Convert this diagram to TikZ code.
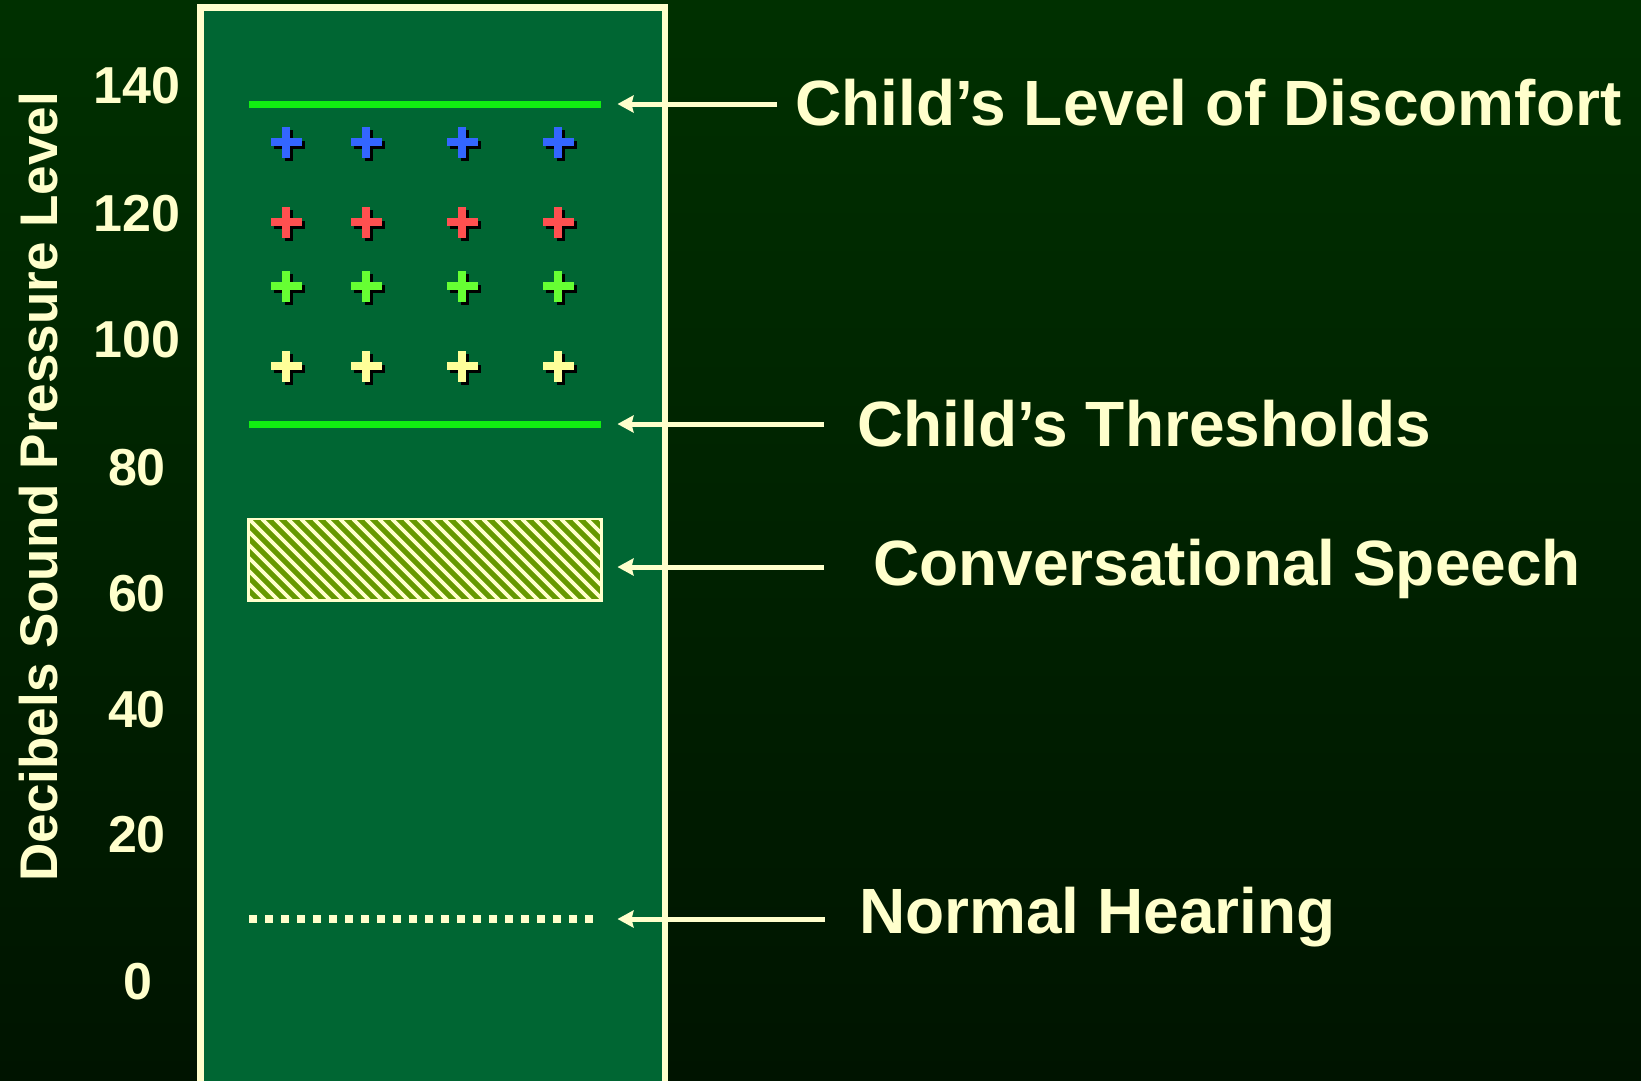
\documentclass[tikz,border=0pt]{standalone}
\usepackage{fontspec}
\setmainfont{Liberation Sans}
\usetikzlibrary{arrows.meta}
\definecolor{cream}{HTML}{FFFFCC}
\definecolor{panel}{HTML}{006633}
\definecolor{bgtop}{HTML}{003000}
\definecolor{bgbot}{HTML}{001400}
\definecolor{brightgreen}{HTML}{11EE11}
\definecolor{pblue}{HTML}{3366FF}
\definecolor{pred}{HTML}{FF5050}
\definecolor{pgreen}{HTML}{66FF33}
\definecolor{pyellow}{HTML}{FFFF99}
\definecolor{hatchg}{HTML}{669900}
\tikzset{
  plusmk/.pic={
    \fill[black] (-15.5+3,-3.85+3) rectangle (15.5+3,3.85+3);
    \fill[black] (-3.85+3,-15.5+3) rectangle (3.85+3,15.5+3);
    \fill[#1] (-15.5,-3.85) rectangle (15.5,3.85);
    \fill[#1] (-3.85,-15.5) rectangle (3.85,15.5);
  },
  arr/.style={draw=cream, line width=5pt, -{Stealth[length=16pt,width=17pt,inset=2pt]}},
  lbl/.style={text=cream, font=\fontsize{64}{70}\selectfont\bfseries, inner sep=0pt, anchor=base west},
  num/.style={text=cream, font=\fontsize{52}{58}\selectfont\bfseries, inner sep=0pt, anchor=base},
  level/.style={draw=brightgreen, line width=7pt}
}
\begin{document}
\begin{tikzpicture}[x=1pt,y=-1pt]
\shade[top color=bgtop, bottom color=bgbot] (0,0) rectangle (1641,1080);
\useasboundingbox (0,0) rectangle (1641,1080);
% panel
\draw[draw=cream, fill=panel, line width=6.5pt] (200.5,7.7) rectangle (665,1086);
% level lines
\draw[level] (249,104) -- (601,104);
\draw[level] (249,424) -- (601,424);
% plus marks
\foreach \xx in {286.3,366.3,462.3,558.3} {
  \pic at (\xx,142.3) {plusmk=pblue};
  \pic at (\xx,222.3) {plusmk=pred};
  \pic at (\xx,286.3) {plusmk=pgreen};
  \pic at (\xx,366.3) {plusmk=pyellow};
}
% hatched speech box
\begin{scope}
  \clip (248.5,519) rectangle (601.5,600.5);
  \fill[hatchg] (248.5,519) rectangle (601.5,600.5);
  \foreach \i in {0,...,40} \draw[cream, line width=3.6pt] ({158+\i*13},519) -- ++(82,82);
\end{scope}
\draw[cream, line width=2.5pt] (248.5,519) rectangle (601.5,600.5);
% normal hearing dotted line
\draw[cream, line width=8pt, dash pattern=on 8pt off 8pt] (249,919) -- (593,919);
% axis numbers
\node[num] (n140) at (137,103.3) {140};
\node[num] (n120) at (137,231) {120};
\node[num] (n100) at (137,357.6) {100};
\node[num] (n80) at (137,485.3) {80};
\node[num] (n60) at (137,611) {60};
\node[num] (n40) at (137,727) {40};
\node[num] (n20) at (137,852.7) {20};
\node[num] (n0) at (138,999) {0};
% axis title
\node[text=cream, font=\fontsize{53}{60}\selectfont\bfseries, inner sep=0pt, rotate=90, anchor=base] (title) at (57.5,486.7) {Decibels Sound Pressure Level};
% labels
\node[lbl] (L1) at (795,125.7) {Child’s Level of Discomfort};
\node[lbl] (L2) at (857,446) {Child’s Thresholds};
\node[lbl] (L3) at (873,585.3) {Conversational Speech};
\node[lbl] (L4) at (859,933.3) {Normal Hearing};
% arrows
\coordinate (H1) at (617.5,104);
\coordinate (H2) at (617.5,424);
\coordinate (H3) at (617.5,567);
\coordinate (H4) at (617.5,919);
\coordinate (T1) at (777,104);
\coordinate (T2) at (824,424);
\coordinate (T3) at (824,567);
\coordinate (T4) at (825,919);
\draw[arr] (T1) -- (H1);
\draw[arr] (T2) -- (H2);
\draw[arr] (T3) -- (H3);
\draw[arr] (T4) -- (H4);
\end{tikzpicture}
\end{document}
